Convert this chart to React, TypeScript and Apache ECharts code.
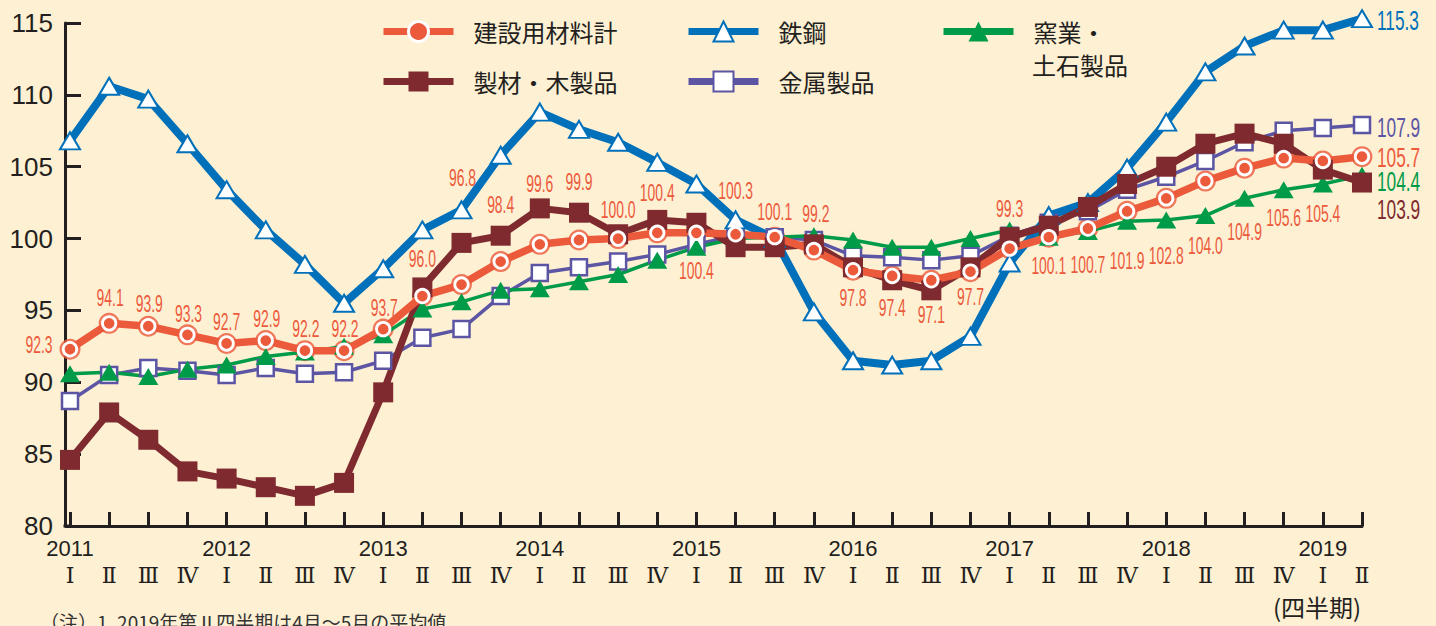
import React, { useEffect, useRef } from "react";
import * as echarts from "echarts";

// ---- data ----
const categories = [
  "2011-Ⅰ", "2011-Ⅱ", "2011-Ⅲ", "2011-Ⅳ",
  "2012-Ⅰ", "2012-Ⅱ", "2012-Ⅲ", "2012-Ⅳ",
  "2013-Ⅰ", "2013-Ⅱ", "2013-Ⅲ", "2013-Ⅳ",
  "2014-Ⅰ", "2014-Ⅱ", "2014-Ⅲ", "2014-Ⅳ",
  "2015-Ⅰ", "2015-Ⅱ", "2015-Ⅲ", "2015-Ⅳ",
  "2016-Ⅰ", "2016-Ⅱ", "2016-Ⅲ", "2016-Ⅳ",
  "2017-Ⅰ", "2017-Ⅱ", "2017-Ⅲ", "2017-Ⅳ",
  "2018-Ⅰ", "2018-Ⅱ", "2018-Ⅲ", "2018-Ⅳ",
  "2019-Ⅰ", "2019-Ⅱ",
];

const NAME_TOTAL = "建設用材料計";
const NAME_STEEL = "鉄鋼";
const NAME_CERAMICS = "窯業・土石製品";
const NAME_LUMBER = "製材・木製品";
const NAME_METAL = "金属製品";

const totalMaterials = [
  92.3, 94.1, 93.9, 93.3, 92.7, 92.9, 92.2, 92.2,
  93.7, 96.0, 96.8, 98.4, 99.6, 99.9, 100.0, 100.4,
  100.4, 100.3, 100.1, 99.2, 97.8, 97.4, 97.1, 97.7,
  99.3, 100.1, 100.7, 101.9, 102.8, 104.0, 104.9, 105.6,
  105.4, 105.7,
];
const steel = [
  106.8, 110.6, 109.7, 106.6, 103.4, 100.6, 98.2, 95.5,
  97.9, 100.6, 102.0, 105.8, 108.8, 107.6, 106.7, 105.3,
  103.8, 101.3, 100.0, 94.9, 91.5, 91.2, 91.5, 93.2,
  98.3, 101.6, 102.5, 104.9, 108.1, 111.6, 113.4, 114.5,
  114.5, 115.3,
];
const ceramics = [
  90.6, 90.7, 90.4, 90.9, 91.2, 91.8, 92.1, 92.5,
  93.3, 95.1, 95.6, 96.4, 96.5, 97.0, 97.5, 98.5,
  99.4, 100.0, 100.1, 100.2, 99.9, 99.4, 99.4, 100.0,
  100.6, 100.1, 100.5, 101.2, 101.3, 101.6, 102.8, 103.4,
  103.8, 104.4,
];
const lumber = [
  84.6, 87.9, 86.0, 83.8, 83.3, 82.7, 82.1, 83.0,
  89.3, 96.6, 99.7, 100.2, 102.1, 101.8, 100.3, 101.3,
  101.1, 99.4, 99.4, 99.6, 98.0, 97.1, 96.4, 98.0,
  100.1, 100.9, 102.2, 103.8, 105.0, 106.6, 107.3, 106.6,
  104.8, 103.9,
];
const metal = [
  88.7, 90.5, 91.0, 90.8, 90.5, 91.0, 90.6, 90.7,
  91.5, 93.1, 93.7, 96.0, 97.6, 98.0, 98.4, 98.9,
  99.6, 100.2, 100.1, 99.9, 98.8, 98.7, 98.5, 98.8,
  100.2, 101.1, 101.9, 103.4, 104.3, 105.4, 106.7, 107.5,
  107.7, 107.9,
];

const yMin = 80;
const yMax = 115;
const yStep = 5;

const footnote = "（注）1. 2019年第Ⅱ四半期は4月～5月の平均値";
const periodUnit = "(四半期)";

// ---- styles ----
const C_TOTAL = "#EC5A3C";
const C_STEEL = "#0070BA";
const C_CERAMICS = "#009B48";
const C_LUMBER = "#7E2A2F";
const C_METAL = "#5B55A4";
const C_TEXT = "#231F20";
const BG = "#FEF0D3";

const NUM_FONT = "'Liberation Sans', Arial, Helvetica, sans-serif";
const CJK_FONT = "'Noto Sans CJK JP', 'Noto Sans', sans-serif";
const ROMAN_FONT = "'DejaVu Serif', 'Liberation Serif', serif";

// pixel offsets of the value labels of 建設用材料計 (index 0..32), relative to the point
const totalLabelOffsets: [number, number][] = [
  [-31, -5], [1, -26], [1, -23], [1, -21], [0, -22], [1, -22], [1, -22], [1, -22],
  [1, -22], [0, -38], [1, -107], [0, -57], [0, -61], [0, -59], [0, -29], [0, -40],
  [0, 38], [0, -44], [0, -26], [2, -37], [0, 27], [0, 31], [0, 34], [0, 25],
  [0, -40], [0, 28], [0, 36], [0, 49], [0, 57], [0, 64], [0, 63], [0, 59],
  [0, 52],
];

type LabelItem = {
  i: number; v: number; text: string; dx: number; dy: number;
  color: string; size: number; scale: number; align: "center" | "left";
};

function buildLabels(): LabelItem[] {
  const items: LabelItem[] = [];
  totalLabelOffsets.forEach(([dx, dy], i) => {
    items.push({
      i, v: totalMaterials[i], text: totalMaterials[i].toFixed(1), dx, dy,
      color: C_TOTAL, size: 24, scale: 0.58, align: "center",
    });
  });
  const last = categories.length - 1;
  const ends: [number[], string, number][] = [
    [steel, C_STEEL, 2],
    [metal, C_METAL, 2],
    [totalMaterials, C_TOTAL, 1],
    [ceramics, C_CERAMICS, 6],
    [lumber, C_LUMBER, 27],
  ];
  ends.forEach(([arr, color, dy]) => {
    items.push({
      i: last, v: arr[last], text: arr[last].toFixed(1), dx: 15, dy,
      color, size: 27, scale: 0.64, align: "left",
    });
  });
  return items;
}

export default function App() {
  const ref = useRef<HTMLDivElement>(null);

  useEffect(() => {
    if (!ref.current) return;
    const chart = echarts.init(ref.current, null, { renderer: "svg" });
    const labelItems = buildLabels();

    const legend = (name: string, left: number, top: number, extra: any = {}) => ({
      data: [name],
      left,
      top,
      padding: 0,
      itemWidth: 70,
      itemHeight: 25,
      selectedMode: false,
      textStyle: { fontSize: 24, color: C_TEXT, fontFamily: CJK_FONT, padding: [0, 0, 0, 15] },
      lineStyle: { width: 7 },
      ...extra,
    });

    const option: any = {
      animation: false,
      backgroundColor: BG,
      grid: { left: 70, right: 74, top: 23, bottom: 100, containLabel: false },
      legend: [
        legend(NAME_TOTAL, 380, 19.5, { itemStyle: { borderColor: "#fff", borderWidth: 3 } }),
        legend(NAME_STEEL, 685, 19.5),
        legend(NAME_CERAMICS, 940, 19.5, { formatter: () => "窯業・" }),
        legend(NAME_LUMBER, 380, 69.5),
        legend(NAME_METAL, 685, 69.5),
      ],
      xAxis: [
        {
          type: "category",
          data: categories,
          boundaryGap: false,
          position: "bottom",
          axisLine: { show: true, lineStyle: { color: C_TEXT, width: 3 } },
          axisTick: { show: true, inside: true, length: 14, interval: 0, lineStyle: { color: C_TEXT, width: 3 } },
          axisLabel: {
            interval: 0,
            margin: 11,
            fontSize: 22,
            color: C_TEXT,
            fontFamily: NUM_FONT,
            formatter: (v: string) => {
              const [y, q] = v.split("-");
              return q === "Ⅰ" ? y : "";
            },
          },
          splitLine: { show: false },
        },
        {
          type: "category",
          data: categories,
          boundaryGap: false,
          position: "bottom",
          axisLine: { show: false },
          axisTick: { show: false },
          axisLabel: {
            interval: 0,
            margin: 38,
            fontSize: 22,
            color: C_TEXT,
            fontFamily: ROMAN_FONT,
            formatter: (v: string) => v.split("-")[1],
          },
          splitLine: { show: false },
        },
      ],
      yAxis: {
        type: "value",
        min: yMin,
        max: yMax,
        interval: yStep,
        offset: 5,
        axisLine: { show: true, lineStyle: { color: C_TEXT, width: 3 } },
        axisTick: { show: true, inside: true, length: 16, lineStyle: { color: C_TEXT, width: 3 } },
        axisLabel: { fontSize: 26, color: C_TEXT, fontFamily: NUM_FONT, margin: 12 },
        splitLine: { show: false },
      },
      graphic: [
        {
          type: "line",
          shape: { x1: 63.5, y1: 526, x2: 71, y2: 526 },
          style: { stroke: C_TEXT, lineWidth: 3 },
          silent: true,
        },
        {
          type: "text",
          left: 1032,
          top: 52,
          style: { text: "土石製品", fill: C_TEXT, fontSize: 24, fontFamily: CJK_FONT },
          silent: true,
        },
        {
          type: "text",
          left: 1273,
          top: 594,
          style: { text: periodUnit, fill: C_TEXT, fontSize: 24, fontFamily: CJK_FONT },
          silent: true,
        },
        {
          type: "text",
          left: 40,
          top: 612,
          style: { text: footnote, fill: "#333", fontSize: 19, fontFamily: CJK_FONT },
          silent: true,
        },
      ],
      series: [
        {
          type: "line",
          name: NAME_METAL,
          data: metal,
          symbol: "rect",
          symbolSize: 16,
          showAllSymbol: true,
          clip: false,
          lineStyle: { color: C_METAL, width: 3.5 },
          itemStyle: { color: "#fff", borderColor: C_METAL, borderWidth: 2.5 },
          emphasis: { disabled: true },
        },
        {
          type: "line",
          name: NAME_CERAMICS,
          data: ceramics,
          symbol: "triangle",
          symbolSize: [20, 17],
          showAllSymbol: true,
          clip: false,
          lineStyle: { color: C_CERAMICS, width: 3.5 },
          itemStyle: { color: C_CERAMICS },
          emphasis: { disabled: true },
        },
        {
          type: "line",
          name: NAME_STEEL,
          data: steel,
          symbol: "triangle",
          symbolSize: [20, 17],
          showAllSymbol: true,
          clip: false,
          lineStyle: { color: C_STEEL, width: 8 },
          itemStyle: { color: "#fff", borderColor: C_STEEL, borderWidth: 2 },
          emphasis: { disabled: true },
        },
        {
          type: "line",
          name: NAME_LUMBER,
          data: lumber,
          symbol: "rect",
          symbolSize: 20,
          showAllSymbol: true,
          clip: false,
          lineStyle: { color: C_LUMBER, width: 7 },
          itemStyle: { color: C_LUMBER },
          emphasis: { disabled: true },
        },
        {
          type: "scatter",
          name: NAME_TOTAL + "（外周）",
          data: totalMaterials,
          symbol: "circle",
          symbolSize: 21,
          clip: false,
          itemStyle: { color: C_TOTAL },
          emphasis: { disabled: true },
        },
        {
          type: "line",
          name: NAME_TOTAL,
          data: totalMaterials,
          symbol: "circle",
          symbolSize: 13.5,
          showAllSymbol: true,
          clip: false,
          lineStyle: { color: C_TOTAL, width: 7.5 },
          itemStyle: { color: C_TOTAL, borderColor: "#fff", borderWidth: 2.8 },
          emphasis: { disabled: true },
        },
        {
          type: "custom",
          name: "labels",
          clip: false,
          silent: true,
          z: 10,
          data: labelItems.map((l) => [l.i, l.v]),
          encode: { x: 0, y: 1 },
          renderItem: (params: any, api: any) => {
            const it = labelItems[params.dataIndex];
            const p = api.coord([api.value(0), api.value(1)]);
            return {
              type: "text",
              x: p[0] + it.dx,
              y: p[1] + it.dy,
              scaleX: it.scale,
              style: {
                text: it.text,
                fill: it.color,
                fontSize: it.size,
                fontFamily: NUM_FONT,
                align: it.align,
                verticalAlign: "middle",
              },
            };
          },
        },
      ],
    };

    chart.setOption(option);
    return () => chart.dispose();
  }, []);

  return (
    <div
      ref={ref}
      style={{ position: "fixed", left: 0, top: 0, width: 1436, height: 626, background: BG }}
    />
  );
}
